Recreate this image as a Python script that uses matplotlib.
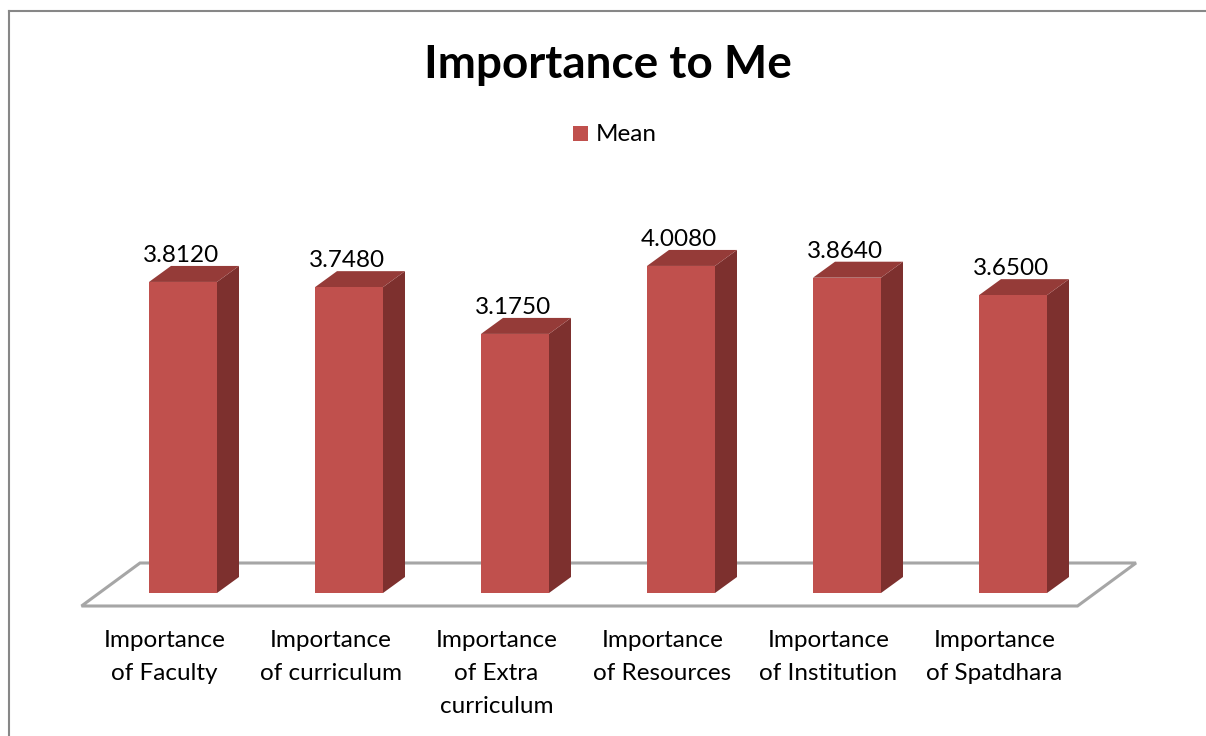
import matplotlib
matplotlib.use("Agg")
import matplotlib.pyplot as plt
from matplotlib.patches import Polygon, Rectangle
from matplotlib.lines import Line2D

# ---------------- data ----------------
categories = [
    "Importance\nof Faculty",
    "Importance\nof curriculum",
    "Importance\nof Extra\ncurriculum",
    "Importance\nof Resources",
    "Importance\nof Institution",
    "Importance\nof Spatdhara",
]
means = [3.812, 3.748, 3.175, 4.008, 3.864, 3.650]
series_name = "Mean"
title = "Importance to Me"

# ---------------- style ----------------
FONT = ["Lato", "DejaVu Sans"]
plt.rcParams["font.family"] = FONT
FRONT = "#C0504D"
TOP = "#953B38"
SIDE = "#7D302E"
FLOOR_EDGE = "#A6A6A6"
FRAME = "#878787"

W, H = 1206, 736
fig = plt.figure(figsize=(W / 100, H / 100), dpi=100)
fig.patch.set_facecolor("white")
ax = fig.add_axes([0, 0, 1, 1])
ax.set_axis_off()

# axis scaling (pixels per unit)
PX_X = 166.0   # pixels per category slot
PX_Y = 81.6    # pixels per value unit
slot0_px = 164.5
zero_px = 593.0
ax.set_xlim(-slot0_px / PX_X, (W - slot0_px) / PX_X)
ax.set_ylim(-(H - zero_px) / PX_Y, zero_px / PX_Y)

n = len(categories)
xs = list(range(n))

# 3-D geometry (in data units)
bar_w = 68 / PX_X
bar_shift = 18.5 / PX_X
dx = 22 / PX_X
dy = 16 / PX_Y
floor_front = -13 / PX_Y
floor_back = 30 / PX_Y
floor_dx = 58.5 / PX_X

# floor
fl = Polygon([(-0.5, floor_front), (n - 0.5, floor_front),
              (n - 0.5 + floor_dx, floor_back), (-0.5 + floor_dx, floor_back)],
             closed=True, facecolor="white", edgecolor=FLOOR_EDGE, lw=2.2,
             joinstyle="miter", zorder=1)
ax.add_patch(fl)

# bars
centers = [x + bar_shift for x in xs]
ax.bar(centers, means, width=bar_w, color=FRONT, edgecolor="none", zorder=3)
for c, v in zip(centers, means):
    r = c + bar_w / 2
    l = c - bar_w / 2
    ax.add_patch(Polygon([(r, 0), (r + dx, dy), (r + dx, v + dy), (r, v)],
                         closed=True, facecolor=SIDE, edgecolor="none", zorder=2))
    ax.add_patch(Polygon([(l, v), (r, v), (r + dx, v + dy), (l + dx, v + dy)],
                         closed=True, facecolor=TOP, edgecolor="none", zorder=2))
    ax.text(c - 2 / PX_X, v + dy + 4 / PX_Y, f"{v:.4f}", ha="center", va="baseline",
            fontsize=17.5, color="black", zorder=4)

# category labels
for x, lab in zip(xs, categories):
    for k, line in enumerate(lab.split("\n")):
        ax.text(x, -(647 + 33 * k - zero_px) / PX_Y, line, ha="center", va="baseline",
                fontsize=17.5, color="black")

# title
fig.text(608 / W, 1 - 78 / H, title, ha="center", va="baseline",
         fontsize=33, fontweight="bold", color="black")

# legend
fig.patches.append(Rectangle((573 / W, 1 - 141 / H), 15 / W, 15 / H,
                             transform=fig.transFigure, facecolor=FRONT,
                             edgecolor="none"))
fig.text(596 / W, 1 - 141 / H, series_name, ha="left", va="baseline",
         fontsize=17.5, color="black")

# outer frame (chart area border)
fig.lines.append(Line2D([8.5 / W, 8.5 / W], [0, 1 - 11 / H], transform=fig.transFigure,
                        color=FRAME, lw=1.5))
fig.lines.append(Line2D([8.5 / W, 1], [1 - 11 / H, 1 - 11 / H], transform=fig.transFigure,
                        color=FRAME, lw=1.5))

fig.savefig("out.png", dpi=100)
